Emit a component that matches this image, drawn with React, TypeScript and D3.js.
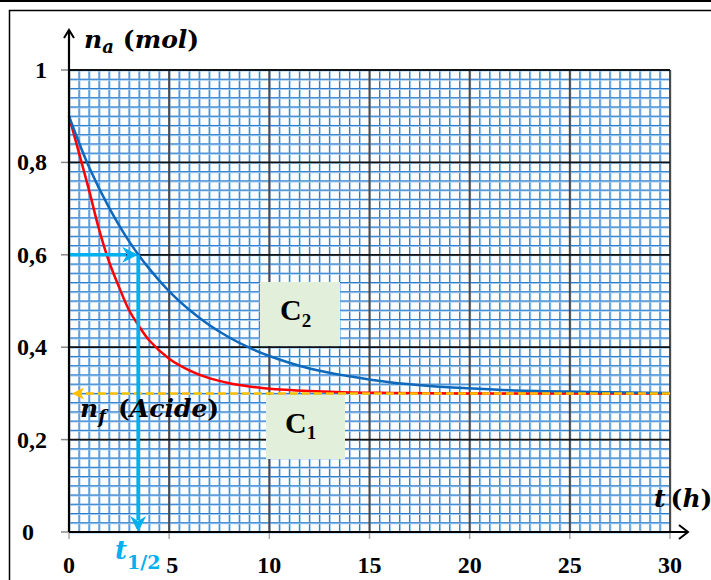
import React from 'react';
import * as d3 from 'd3';

// courbe C1 (rouge) et C2 (bleue)
const c1Hours = [0, 0.5, 1, 1.5, 2, 2.5, 3, 3.5, 4, 5, 6, 7, 8, 9, 10, 12, 14, 16, 20, 30];
const c1Values = [0.9, 0.82, 0.74, 0.655, 0.585, 0.53, 0.48, 0.445, 0.415, 0.375, 0.35, 0.333, 0.322, 0.315, 0.31, 0.305, 0.302, 0.301, 0.3, 0.3];
const c2Hours = [0, 1, 2, 3, 4, 5, 6, 7, 8, 9, 10, 12, 14, 16, 18, 20, 22, 25, 28, 30];
const c2Values = [0.9, 0.79, 0.702, 0.629, 0.57, 0.521, 0.481, 0.448, 0.421, 0.399, 0.381, 0.354, 0.337, 0.324, 0.316, 0.311, 0.307, 0.304, 0.302, 0.301];

const xTicks = [0, 5, 10, 15, 20, 25, 30];
const yTicks = [0, 0.2, 0.4, 0.6, 0.8, 1];
const yTickLabels = ['0', '0,2', '0,4', '0,6', '0,8', '1'];

const finalAmount = 0.3;
const halfAmount = 0.6;
const halfTime = 3.45;

const W = 711;
const H = 580;

export default function App() {
  const x = d3.scaleLinear().domain([0, 30]).range([69, 670]);
  const y = d3.scaleLinear().domain([0, 1]).range([532, 70]);

  const line = d3.line<[number, number]>()
    .x(d => x(d[0]))
    .y(d => y(d[1]))
    .curve(d3.curveCatmullRom.alpha(0.5));

  const c1Path = line(c1Hours.map((t, i) => [t, c1Values[i]]));
  const c2Path = line(c2Hours.map((t, i) => [t, c2Values[i]]));

  const minorX = d3.range(0, 30.01, 0.5);
  const minorY = d3.range(0, 1.001, 0.02);

  const serif = '"Liberation Serif", "Times New Roman", serif';
  const math = '"DejaVu Serif", serif';
  const cyan = '#00b0f0';

  const hx = x(halfTime);
  const hy = y(halfAmount);
  const fy = y(finalAmount);

  return (
    <div style={{position: 'absolute', left: 0, top: 0}}>
      <svg width={W} height={H} style={{display: 'block', background: '#fff'}}>
        {/* cadre */}
        <line x1={0} x2={W} y1={1} y2={1} stroke="#000" strokeWidth={2} />
        <path d={`M9.5,${H} V10.5 H${W}`} fill="none" stroke="#000" strokeWidth={1.5} />

        {/* quadrillage fin */}
        <g>
          {minorX.map(v => (
            <g key={'vx' + v}>
              <line x1={x(v) + 0.5} x2={x(v) + 0.5} y1={y(0)} y2={y(1)} stroke="#a3ccf0" strokeWidth={2} />
              <line x1={x(v)} x2={x(v)} y1={y(0)} y2={y(1)} stroke="#2a7bcc" strokeWidth={1} />
            </g>
          ))}
          {minorY.map(v => (
            <g key={'hy' + v}>
              <line x1={x(0)} x2={x(30)} y1={y(v) + 0.5} y2={y(v) + 0.5} stroke="#a3ccf0" strokeWidth={2} />
              <line x1={x(0)} x2={x(30)} y1={y(v)} y2={y(v)} stroke="#2a7bcc" strokeWidth={1} />
            </g>
          ))}
        </g>
        {/* quadrillage principal */}
        {xTicks.filter(v => v > 0).map(v => (
          <line key={'MX' + v} x1={x(v)} x2={x(v)} y1={y(0)} y2={y(1)} stroke="#4a4a4a" strokeWidth={2} />
        ))}
        {yTicks.filter(v => v > 0).map(v => (
          <line key={'MY' + v} x1={x(0)} x2={x(30)} y1={y(v)} y2={y(v)} stroke="#111" strokeWidth={1.8} />
        ))}

        {/* graduations */}
        {yTicks.map(v => (
          <line key={'ty' + v} x1={x(0) - 8} x2={x(0)} y1={y(v)} y2={y(v)} stroke="#888" strokeWidth={1.5} />
        ))}
        {xTicks.map(v => (
          <line key={'tx' + v} x1={x(v)} x2={x(v)} y1={y(0)} y2={y(0) + 7} stroke="#aaa" strokeWidth={1.5} />
        ))}

        {/* courbes */}
        <path d={c1Path ?? ''} fill="none" stroke="#ff0000" strokeWidth={2.5} />
        <path d={c2Path ?? ''} fill="none" stroke="#0e68bb" strokeWidth={2.5} />

        {/* n_f */}
        <line x1={x(30)} x2={x(0) + 12} y1={fy} y2={fy} stroke="#ffc000" strokeWidth={2.5} strokeDasharray="8,4" />
        <path d={`M${x(0) + 3},${fy} L${x(0) + 15},${fy - 6} L${x(0) + 12},${fy} L${x(0) + 15},${fy + 6} Z`} fill="#ffc000" />

        {/* t1/2 */}
        <line x1={x(0)} x2={hx - 12} y1={hy} y2={hy} stroke={cyan} strokeWidth={3.5} />
        <path d={`M${hx},${hy} L${hx - 16},${hy - 8} L${hx - 11},${hy} L${hx - 16},${hy + 8} Z`} fill={cyan} />
        <line x1={hx} x2={hx} y1={hy} y2={y(0) - 12} stroke={cyan} strokeWidth={3.5} />
        <path d={`M${hx},${y(0)} L${hx - 8},${y(0) - 16} L${hx},${y(0) - 11} L${hx + 8},${y(0) - 16} Z`} fill={cyan} />

        {/* axes */}
        <line x1={x(0)} x2={x(0)} y1={y(0)} y2={30} stroke="#000" strokeWidth={2.2} />
        <path d={`M${x(0) - 5},38 L${x(0)},30 L${x(0) + 5},38`} fill="none" stroke="#000" strokeWidth={2} />
        <line x1={x(0)} x2={688} y1={y(0)} y2={y(0)} stroke="#000" strokeWidth={2.2} />
        <path d={`M679,${y(0) - 7} L688,${y(0)} L679,${y(0) + 7}`} fill="none" stroke="#000" strokeWidth={2} />

        {/* étiquettes des axes */}
        {yTicks.map((v, i) => (
          <text key={'ly' + v} x={v === 0 ? 34 : 47} y={y(v) + 8} textAnchor="end" fontFamily={serif} fontWeight="bold" fontSize={24}>
            {yTickLabels[i]}
          </text>
        ))}
        {xTicks.map(v => (
          <text key={'lx' + v} x={x(v) + (v === 5 ? 3 : 0)} y={573} textAnchor="middle" fontFamily={serif} fontWeight="bold" fontSize={24}>
            {v}
          </text>
        ))}

        <text x={84} y={48} fontFamily={math} fontWeight="bold" fontSize={25}>
          <tspan fontStyle="italic">n</tspan>
          <tspan fontStyle="italic" fontSize={18} dy={5}>a</tspan>
          <tspan dy={-5} dx={9}>(</tspan>
          <tspan fontStyle="italic">mol</tspan>
          <tspan>)</tspan>
        </text>

        <text x={654} y={507} fontFamily={math} fontWeight="bold" fontSize={25}>
          <tspan fontStyle="italic">t</tspan>
          <tspan dx={5}>(</tspan>
          <tspan fontStyle="italic">h</tspan>
          <tspan>)</tspan>
        </text>

        <text x={80} y={417} fontFamily={math} fontWeight="bold" fontSize={25}>
          <tspan fontStyle="italic">n</tspan>
          <tspan fontStyle="italic" fontSize={18} dy={6}>f</tspan>
          <tspan dy={-6} dx={12}>(</tspan>
          <tspan fontStyle="italic">Acide</tspan>
          <tspan>)</tspan>
        </text>

        <text x={115} y={559} fontFamily={math} fontWeight="bold" fill={cyan} fontSize={26}>
          <tspan fontStyle="italic">t</tspan>
          <tspan fontSize={19} dy={10}>1/2</tspan>
        </text>

        {/* encadrés */}
        <rect x={260} y={282} width={80} height={64} fill="#e2efda" />
        <text x={280} y={320} fontFamily={serif} fontWeight="bold" fontSize={30}>
          C<tspan fontSize={19} dy={7}>2</tspan>
        </text>
        <rect x={266} y={395} width={79} height={64} fill="#e2efda" />
        <text x={285} y={433} fontFamily={serif} fontWeight="bold" fontSize={30}>
          C<tspan fontSize={19} dy={6}>1</tspan>
        </text>
      </svg>
    </div>
  );
}
